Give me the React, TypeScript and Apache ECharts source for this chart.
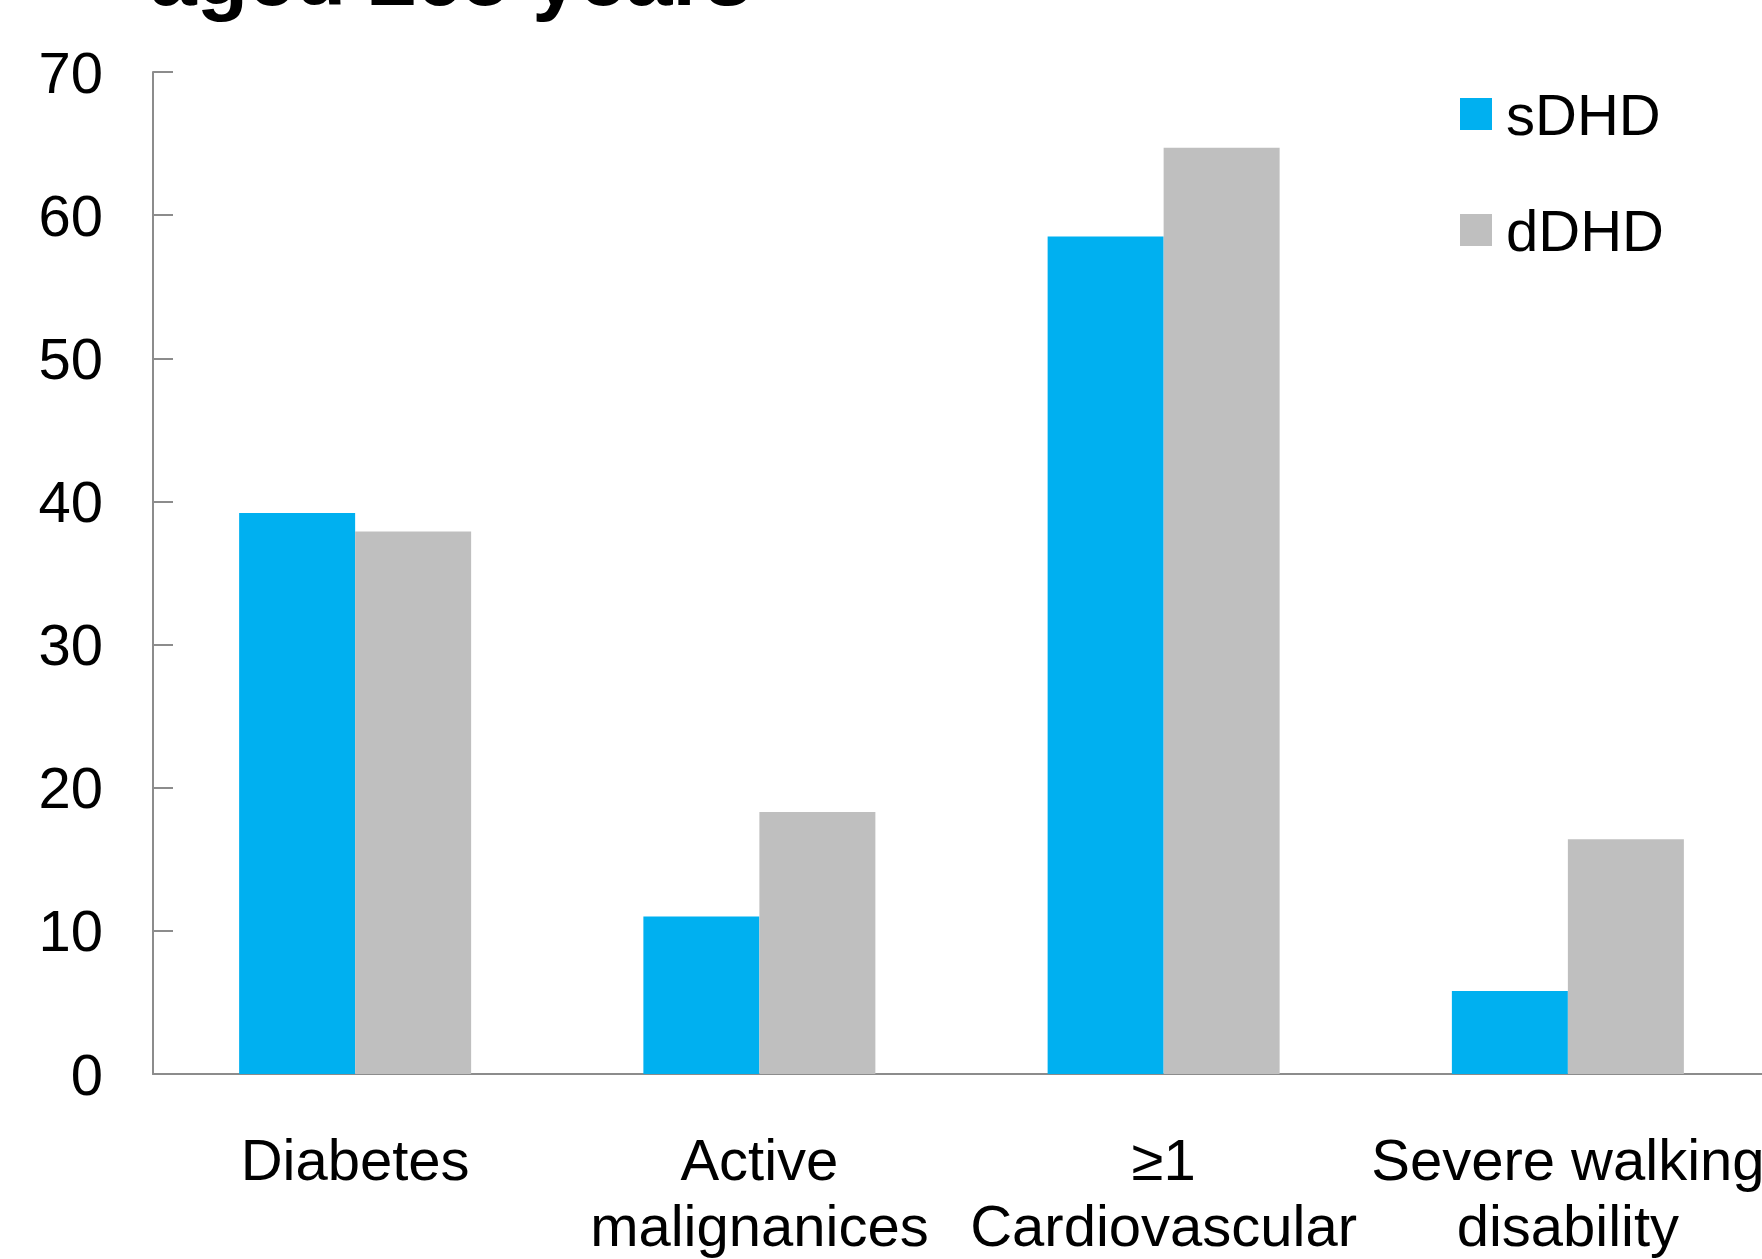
import React, { useEffect, useRef } from "react";
import * as echarts from "echarts";

const categories = [
  "Diabetes",
  "Active\nmalignanices",
  "≥1\nCardiovascular",
  "Severe walking\ndisability",
];
const sDHD = [39.2, 11.0, 58.5, 5.8];
const dDHD = [37.9, 18.3, 64.7, 16.4];
const yTicks = { min: 0, max: 70, interval: 10 };
const titleText = "aged ≥65 years";

const FONT = "'Liberation Sans', Arial, Helvetica, sans-serif";

export default function App() {
  const ref = useRef<HTMLDivElement>(null);
  useEffect(() => {
    if (!ref.current) return;
    const chart = echarts.init(ref.current, undefined, { renderer: "svg" });
    chart.setOption({
      animation: false,
      backgroundColor: "#ffffff",
      textStyle: { fontFamily: FONT },
      graphic: [
        {
          type: "text",
          x: 150,
          y: -24,
          style: {
            text: titleText,
            font: `bold 84px ${FONT}`,
            fill: "#000000",
            align: "left",
            verticalAlign: "middle",
          },
        },
      ],
      legend: {
        orient: "vertical",
        left: 1455,
        top: 80,
        itemWidth: 32,
        itemHeight: 32,
        itemGap: 58,
        icon: "rect",
        data: ["sDHD", "dDHD"],
        textStyle: {
          fontSize: 58,
          lineHeight: 58,
          color: "#000000",
          fontFamily: FONT,
          padding: [0, 0, 0, 9],
        },
      },
      grid: {
        left: 153,
        right: -8,
        top: 72,
        bottom: 185,
        containLabel: false,
        outerBoundsMode: "none",
      },
      xAxis: {
        type: "category",
        data: categories,
        axisLine: { show: true, lineStyle: { color: "#8c8c8c", width: 2 } },
        axisTick: { show: false },
        axisLabel: {
          interval: 0,
          fontSize: 58,
          lineHeight: 66,
          margin: 52,
          color: "#000000",
          fontFamily: FONT,
        },
      },
      yAxis: {
        type: "value",
        min: yTicks.min,
        max: yTicks.max,
        interval: yTicks.interval,
        axisLine: { show: true, lineStyle: { color: "#8c8c8c", width: 2 } },
        axisTick: {
          show: true,
          inside: true,
          length: 20,
          lineStyle: { color: "#8c8c8c", width: 2 },
        },
        splitLine: { show: false },
        axisLabel: {
          fontSize: 58,
          margin: 50,
          color: "#000000",
          fontFamily: FONT,
        },
      },
      series: [
        {
          name: "sDHD",
          type: "bar",
          data: sDHD,
          barWidth: 116,
          barGap: "0%",
          itemStyle: { color: "#00B0F0" },
        },
        {
          name: "dDHD",
          type: "bar",
          data: dDHD,
          barWidth: 116,
          barGap: "0%",
          itemStyle: { color: "#BFBFBF" },
        },
      ],
    });
    return () => chart.dispose();
  }, []);
  return (
    <div
      ref={ref}
      style={{ position: "fixed", left: 0, top: 0, width: "1762px", height: "1259px" }}
    />
  );
}
